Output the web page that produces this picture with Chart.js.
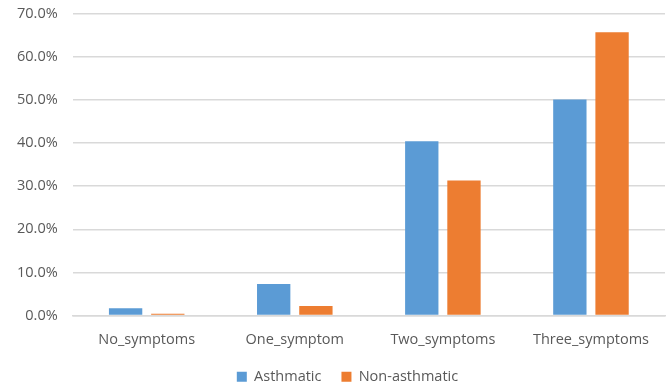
<!DOCTYPE html>
<html>
<head>
<meta charset="utf-8">
<script src="https://cdn.jsdelivr.net/npm/chart.js@4"></script>
<style>
  html, body { margin: 0; padding: 0; background: #fff; overflow: hidden; }
  #wrap { width: 667px; height: 418px; margin-top: -10px; }
</style>
</head>
<body>
<div id="wrap"><canvas id="symptoms"></canvas></div>
<script>
var categories = ['No_symptoms', 'One_symptom', 'Two_symptoms', 'Three_symptoms'];
var asthmatic = [1.7, 7.3, 40.4, 50.1];
var nonAsthmatic = [0.4, 2.2, 31.3, 65.7];

Chart.defaults.font.family = "'Open Sans', 'Liberation Sans', sans-serif";
Chart.defaults.font.size = 14.5;
Chart.defaults.color = '#595959';

// pull the legend up closer to the axis labels and a bit right, like the excel original
const legendNudge = {
  id: 'legendNudge',
  afterLayout(chart) {
    let leg = chart.legend;
    leg.top -= 14; leg.bottom -= 14;
    leg.left += 14; leg.right += 14;
  }
};

let ctx = document.getElementById('symptoms').getContext('2d');

let barChart = new Chart(ctx, {
  type: 'bar',
  data: {
    labels: categories,
    datasets: [{
      label: 'Asthmatic',
      data: asthmatic,
      backgroundColor: '#5B9BD5'
    }, {
      label: 'Non-asthmatic',
      data: nonAsthmatic,
      backgroundColor: '#ED7D31'
    }]
  },
  options: {
    responsive: true,
    maintainAspectRatio: false,
    animation: false,
    layout: { padding: { top: 0, right: 2, left: 2, bottom: 0 } },
    datasets: {
      bar: { categoryPercentage: 0.57, barPercentage: 0.79 }
    },
    scales: {
      x: {
        grid: { display: false, drawTicks: false },
        border: { color: '#d9d9d9', width: 1.5 },
        ticks: { padding: 15.3 }
      },
      y: {
        min: 0,
        max: 70,
        ticks: {
          stepSize: 10,
          padding: 15,
          callback: function (v) { return v.toFixed(1) + '%'; }
        },
        grid: { color: '#d9d9d9', lineWidth: 1.5, drawTicks: false },
        border: { display: false }
      }
    },
    plugins: {
      legend: {
        position: 'bottom',
        labels: { boxWidth: 10, boxHeight: 10, padding: 20 }
      },
      tooltip: { enabled: false }
    }
  },
  plugins: [legendNudge]
});
</script>
</body>
</html>
